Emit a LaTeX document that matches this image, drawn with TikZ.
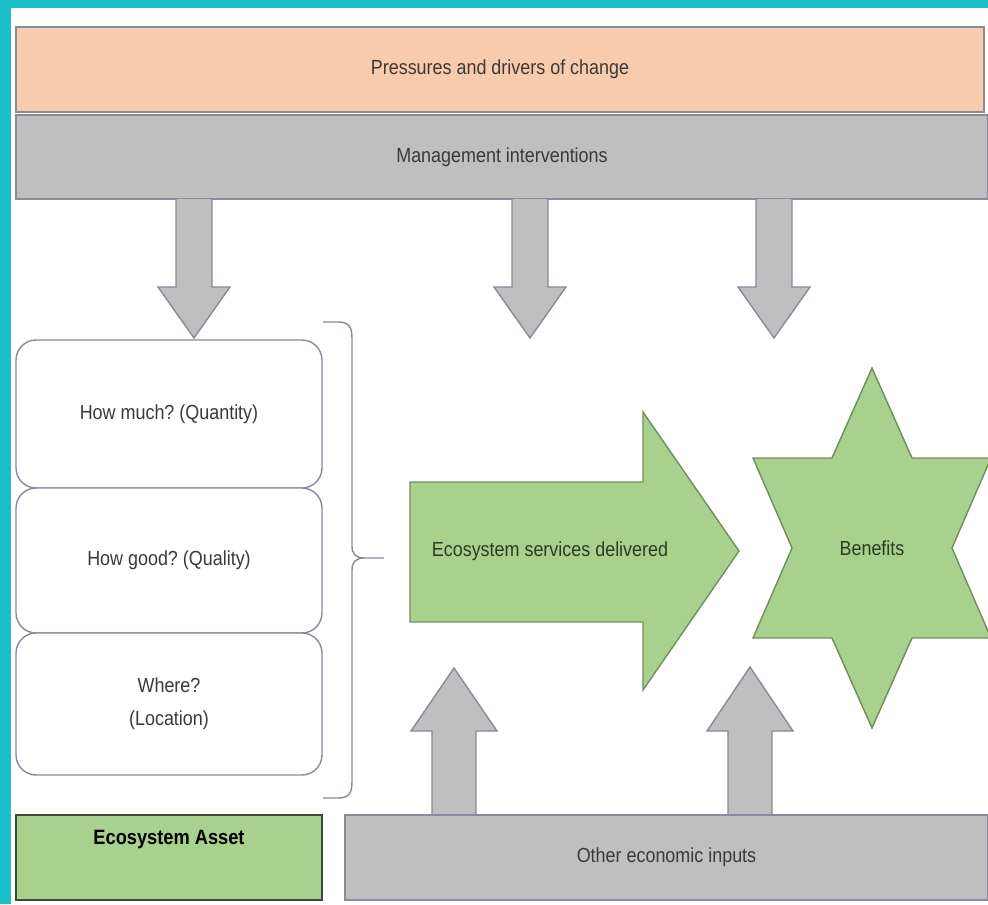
\documentclass[tikz,border=0pt]{standalone}
\usepackage{fontspec}
\setmainfont[FakeStretch=0.88]{Liberation Sans}
\frenchspacing
\definecolor{frame}{HTML}{1BBFC9}
\definecolor{pressure}{HTML}{F8CBAD}
\definecolor{mgmtgray}{HTML}{BFBFBF}
\definecolor{edgegray}{HTML}{878B9C}
\definecolor{leaf}{HTML}{A9D18E}
\definecolor{leafedge}{HTML}{6F8F5F}
\definecolor{assetedge}{HTML}{3E4A38}
\definecolor{darkleaf}{HTML}{2B3D22}
\definecolor{inktext}{HTML}{3A3A3A}
\tikzset{every node/.style={font=\fontsize{11.6}{14}\selectfont, text=inktext},
  band/.style={draw=edgegray, line width=0.8pt, inner sep=0pt},
  askbox/.style={draw=edgegray, fill=white, line width=0.8pt, rounded corners=0.4cm, minimum width=6.12cm},
  grayarrow/.style={draw=edgegray, fill=mgmtgray, line width=0.8pt},
  greenshape/.style={draw=leafedge, fill=leaf, line width=0.8pt}}

\begin{document}
\begin{tikzpicture}[x=0.02cm, y=-0.02cm]
  \useasboundingbox (0,0) rectangle (988,904);
  % frame
  \fill[frame] (0,0) rectangle (988,904);
  \fill[white] (11,8) rectangle (988,904);

  % top bands
  \node[band, fill=pressure, minimum width=19.36cm, minimum height=1.70cm] (pressures) at (500,69.5) {Pressures and drivers of change};
  \node[band, fill=mgmtgray, minimum width=19.44cm, minimum height=1.68cm] (mgmt) at (502,157) {Management interventions};

  % down arrows
  \draw[grayarrow] (176,199) -- (176,287) -- (158,287) -- (194,338) -- (230,287) -- (212,287) -- (212,199);
  \draw[grayarrow] (512,199) -- (512,287) -- (494,287) -- (530,338) -- (566,287) -- (548,287) -- (548,199);
  \draw[grayarrow] (756,199) -- (756,287) -- (738,287) -- (774,338) -- (810,287) -- (792,287) -- (792,199);

  % asset questions
  \node[askbox, minimum height=2.96cm] (quantity) at (169,414) {How much? (Quantity)};
  \node[askbox, minimum height=2.90cm] (quality) at (169,560.5) {How good? (Quality)};
  \node[askbox, minimum height=2.84cm, align=center, font=\fontsize{11.6}{18.8}\selectfont] (location) at (169,704) {Where?\\(Location)};
  \draw[edgegray, line width=0.8pt]
    (323,322) -- (338,322) .. controls (348,322) and (352,326) .. (352,338) -- (352,546)
    .. controls (352,554) and (356,558) .. (364,558) -- (384,558);
  \draw[edgegray, line width=0.8pt]
    (364,558) .. controls (356,558) and (352,562) .. (352,570) -- (352,782)
    .. controls (352,794) and (348,798) .. (338,798) -- (323,798);

  % services and benefits
  \draw[greenshape] (410,482) -- (643,482) -- (643,412) -- (739,551) -- (643,690) -- (643,622) -- (410,622) -- cycle;
  \node[text=darkleaf] (services) at (550,551) {Ecosystem services delivered};
  \draw[greenshape] (872,368) -- (912,458) -- (991,458) -- (952,548) -- (991,638) -- (912,638)
    -- (872,728) -- (832,638) -- (753,638) -- (792,548) -- (753,458) -- (832,458) -- cycle;
  \node[text=darkleaf] (benefits) at (872,548) {Benefits};

  % up arrows
  \draw[grayarrow] (432,815) -- (432,731) -- (411,731) -- (454,668) -- (497,731) -- (476,731) -- (476,815);
  \draw[grayarrow] (728,815) -- (728,731) -- (707,731) -- (750,667) -- (793,731) -- (772,731) -- (772,815);

  % bottom row
  \node[draw=assetedge, fill=leaf, line width=1.2pt, minimum width=6.12cm, minimum height=1.70cm,
    inner sep=0.2cm, text height=0.38cm, text depth=0.92cm, text=black, font=\fontsize{11.8}{14}\selectfont\bfseries] (asset) at (169,857.5) {Ecosystem Asset};
  \node[band, fill=mgmtgray, minimum width=12.86cm, minimum height=1.70cm] (others) at (666.5,857.5) {Other economic inputs};
\end{tikzpicture}
\end{document}
